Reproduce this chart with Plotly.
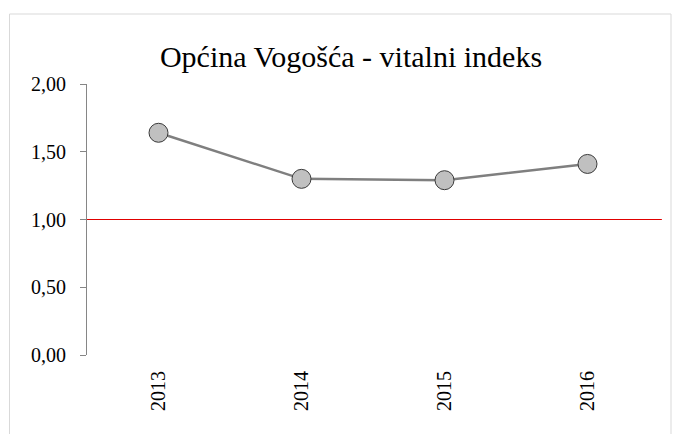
import plotly.graph_objects as go

years = ["2013", "2014", "2015", "2016"]
vitalni_indeks = [1.64, 1.30, 1.29, 1.41]
y_ticks = [0.0, 0.5, 1.0, 1.5, 2.0]
y_tick_labels = ["0,00", "0,50", "1,00", "1,50", "2,00"]
title_text = "Općina Vogošća - vitalni indeks"

FONT = "Liberation Serif, Times New Roman, serif"

W, H = 675, 434
L, R, T, B = 87, 16, 84, 79
pw, ph = W - L - R, H - T - B

fig = go.Figure()
fig.add_trace(go.Scatter(
    x=years, y=vitalni_indeks, mode="lines+markers",
    line=dict(color="#7f7f7f", width=2.5),
    marker=dict(size=19, color="#c0c0c0", line=dict(color="#3a3a3a", width=1)),
    showlegend=False, hoverinfo="x+y",
))

# horizontal (category) axis line crossing at 1,00 – red
fig.add_shape(type="line", xref="paper", yref="y", x0=0, x1=1.005, y0=1, y1=1,
              line=dict(color="#e00000", width=1.2), layer="below")

# outer chart border
fig.add_shape(type="rect", xref="paper", yref="paper",
              x0=(9.5 - L) / pw, x1=(671 - L) / pw,
              y0=-(450 - (H - B)) / ph, y1=((H - B) - 14) / ph,
              line=dict(color="#d9d9d9", width=1), fillcolor="rgba(0,0,0,0)", layer="below")

fig.update_layout(
    width=W, height=H,
    margin=dict(l=L, r=R, t=T, b=B),
    paper_bgcolor="white", plot_bgcolor="white",
    font=dict(family=FONT, color="#000000", size=20),
    title=dict(text=title_text, x=(351) / W, xanchor="center", y=1 - 56 / H, yanchor="middle",
               font=dict(family=FONT, size=30, color="#000000")),
    xaxis=dict(
        type="category", showgrid=False, zeroline=False, showline=False,
        tickangle=-90, ticks="outside", ticklen=7, tickcolor="rgba(0,0,0,0)",
        tickfont=dict(family=FONT, size=20), range=[-0.5, 3.5],
    ),
    yaxis=dict(
        range=[0, 2], tickvals=y_ticks, ticktext=y_tick_labels,
        showgrid=False, zeroline=False, showline=True, linecolor="#868686", linewidth=1,
        ticks="outside", ticklen=6, tickcolor="#868686", tickwidth=1,
        ticklabelstandoff=10,
        tickfont=dict(family=FONT, size=20),
    ),
)

fig.write_html("out.html", config={"displayModeBar": False},
               post_script="document.body.style.margin='0px';document.body.style.overflow='hidden';")
